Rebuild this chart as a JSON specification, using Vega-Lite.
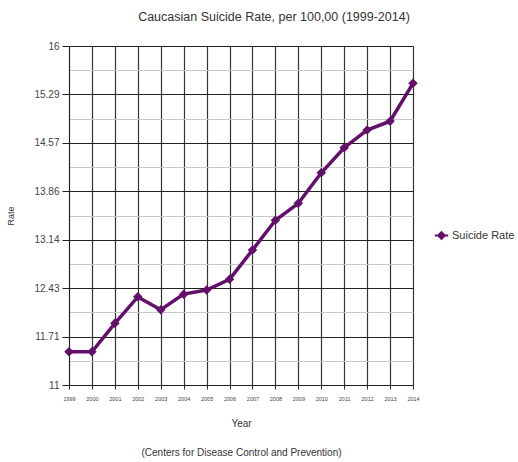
{
  "$schema": "https://vega.github.io/schema/vega-lite/v6.json",
  "autosize": {"type": "none"},
  "width": 344,
  "height": 339,
  "padding": {"left": 69, "top": 46, "right": 105, "bottom": 77},
  "background": "white",
  "title": {
    "text": "Caucasian Suicide Rate, per 100,00 (1999-2014)",
    "font": "Liberation Sans",
    "fontSize": 12.5,
    "fontWeight": "normal",
    "color": "#333333",
    "anchor": "middle",
    "dx": 33,
    "offset": 18
  },
  "data": {
    "values": [
      {"Year": "1999", "Rate": 11.49, "Series": "Suicide Rate"},
      {"Year": "2000", "Rate": 11.49, "Series": "Suicide Rate"},
      {"Year": "2001", "Rate": 11.91, "Series": "Suicide Rate"},
      {"Year": "2002", "Rate": 12.30, "Series": "Suicide Rate"},
      {"Year": "2003", "Rate": 12.11, "Series": "Suicide Rate"},
      {"Year": "2004", "Rate": 12.34, "Series": "Suicide Rate"},
      {"Year": "2005", "Rate": 12.40, "Series": "Suicide Rate"},
      {"Year": "2006", "Rate": 12.56, "Series": "Suicide Rate"},
      {"Year": "2007", "Rate": 12.99, "Series": "Suicide Rate"},
      {"Year": "2008", "Rate": 13.43, "Series": "Suicide Rate"},
      {"Year": "2009", "Rate": 13.68, "Series": "Suicide Rate"},
      {"Year": "2010", "Rate": 14.13, "Series": "Suicide Rate"},
      {"Year": "2011", "Rate": 14.50, "Series": "Suicide Rate"},
      {"Year": "2012", "Rate": 14.76, "Series": "Suicide Rate"},
      {"Year": "2013", "Rate": 14.89, "Series": "Suicide Rate"},
      {"Year": "2014", "Rate": 15.45, "Series": "Suicide Rate"}
    ]
  },
  "encoding": {
    "x": {
      "field": "Year",
      "type": "ordinal",
      "scale": {"type": "point", "padding": 0},
      "axis": {
        "title": ["Year", "(Centers for Disease Control and Prevention)"],
        "titleFont": "Liberation Sans",
        "titleFontSize": 10,
        "titleFontWeight": "normal",
        "titleColor": "#333333",
        "titleLineHeight": 29,
        "titlePadding": 17,
        "labelFont": "Liberation Sans",
        "labelFontSize": 5.5,
        "labelColor": "#444444",
        "labelAngle": 0,
        "labelPadding": 7,
        "tickSize": 4,
        "tickColor": "#222222",
        "domainColor": "#222222",
        "gridColor": "#333333",
        "gridWidth": 1.2,
        "grid": true
      }
    },
    "y": {
      "field": "Rate",
      "type": "quantitative",
      "scale": {"domain": [11, 16], "zero": false, "nice": false},
      "axis": {
        "values": [11, 11.357142857, 11.714285714, 12.071428571, 12.428571429, 12.785714286, 13.142857143, 13.5, 13.857142857, 14.214285714, 14.571428571, 14.928571429, 15.285714286, 15.642857143, 16],
        "labelExpr": "abs((datum.value - 11) * 1.4 - round((datum.value - 11) * 1.4)) > 0.25 ? '' : format(datum.value, '.4~r')",
        "title": "Rate",
        "titleFont": "Liberation Sans",
        "titleFontSize": 9,
        "titleFontWeight": "normal",
        "titleColor": "#333333",
        "titlePadding": 18,
        "labelFont": "Liberation Sans",
        "labelFontSize": 10,
        "labelColor": "#444444",
        "labelPadding": 3,
        "tickSize": 7,
        "tickColor": {"condition": {"test": "abs((datum.value - 11) * 1.4 - round((datum.value - 11) * 1.4)) > 0.25", "value": "transparent"}, "value": "#222222"},
        "domainColor": "#222222",
        "grid": true,
        "gridColor": {"condition": {"test": "abs((datum.value - 11) * 1.4 - round((datum.value - 11) * 1.4)) > 0.25", "value": "#c8c8c8"}, "value": "#222222"},
        "gridWidth": 1.2
      }
    },
    "color": {
      "field": "Series",
      "type": "nominal",
      "scale": {"range": ["#62106a"]},
      "legend": {
        "title": null,
        "orient": "none",
        "legendX": 367,
        "legendY": 184,
        "labelFont": "Liberation Sans",
        "labelFontSize": 11,
        "labelColor": "#333333",
        "symbolType": "M -1.6 0 L 1.6 0 M -0.8 0 L 0 -0.8 L 0.8 0 L 0 0.8 Z",
        "symbolFillColor": "#62106a",
        "symbolStrokeColor": "#62106a",
        "symbolStrokeWidth": 2,
        "symbolSize": 70,
        "labelOffset": 5
      }
    }
  },
  "layer": [
    {"mark": {"type": "line", "strokeWidth": 3.5}},
    {"mark": {"type": "point", "shape": "diamond", "filled": true, "size": 90, "opacity": 1}}
  ],
  "config": {
    "view": {"stroke": "#cccccc", "strokeWidth": 1}
  }
}
